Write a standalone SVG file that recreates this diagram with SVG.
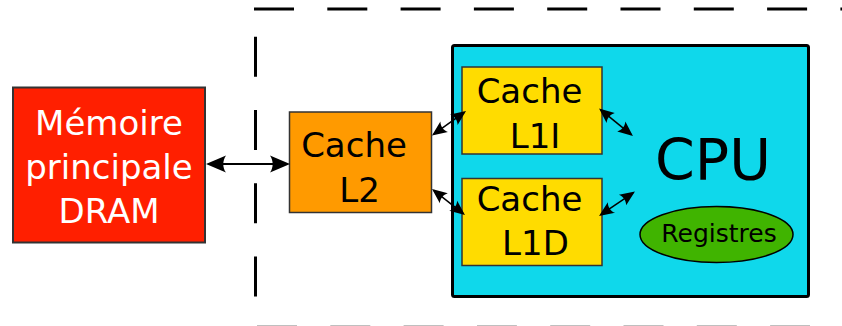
<svg xmlns="http://www.w3.org/2000/svg" width="842" height="326" viewBox="0 0 842 326">
<style>
text{font-family:"DejaVu Sans","Liberation Sans",sans-serif;text-anchor:middle}
.t34{font-size:34px}
.box{stroke:#333;stroke-width:1.5}
.dash{fill:none;stroke:#000;stroke-width:3;stroke-dasharray:40 33.3}
.conn{stroke:#000;fill:none}
</style>
<defs>
<marker id="arr" viewBox="-12 -6 14 12" refX="-1.5" refY="0" markerWidth="14" markerHeight="12" orient="auto-start-reverse" markerUnits="strokeWidth" overflow="visible">
<path d="M0,0 L-10,-4.3 C-8.2,-1.6 -8.2,1.6 -10,4.3 Z" fill="#000"/>
</marker>
</defs>
<g id="frame">
<line class="dash" x1="254" y1="9" x2="842" y2="9"/>
<line class="dash" x1="255.5" y1="36.7" x2="255.5" y2="300" stroke-dasharray="39.5 33.8"/>
<line class="dash" x1="257" y1="327.3" x2="842" y2="327.3"/>
</g>
<g id="memoire">
<rect x="13" y="87.5" width="192" height="155" fill="#ff1f00" stroke="#333" stroke-width="2"/>
<text class="t34" x="109" y="135" fill="#fff">Mémoire</text>
<text class="t34" x="109" y="179" fill="#fff">principale</text>
<text class="t34" x="109" y="223" fill="#fff">DRAM</text>
</g>
<g id="l2">
<rect class="box" x="289.5" y="112" width="142" height="100.5" fill="#ff9a00"/>
<text class="t34" x="354" y="157">Cache</text>
<text class="t34" x="359.5" y="202">L2</text>
</g>
<g id="cpu">
<rect x="452.5" y="45.5" width="356" height="251" rx="2" fill="#0fd8eb" stroke="#000" stroke-width="3"/>
<text x="713" y="180" font-size="57">CPU</text>
</g>
<g id="l1i">
<rect class="box" x="462" y="67" width="140" height="87" fill="#ffdc00"/>
<text class="t34" x="529.5" y="103">Cache</text>
<text class="t34" x="535" y="148">L1I</text>
</g>
<g id="l1d">
<rect class="box" x="462" y="178.5" width="140" height="87" fill="#ffdc00"/>
<text class="t34" x="529.5" y="211">Cache</text>
<text class="t34" x="535.5" y="255">L1D</text>
</g>
<g id="registres">
<ellipse cx="716.5" cy="234.5" rx="76.5" ry="28" fill="#40b400" stroke="#000" stroke-width="1.5"/>
<text x="719" y="242" font-size="25">Registres</text>
</g>
<g id="connectors">
<line class="conn" x1="209" y1="164" x2="287" y2="164" stroke-width="2" marker-start="url(#arr)" marker-end="url(#arr)"/>
<line class="conn" x1="433.8" y1="134.2" x2="464.2" y2="112.3" stroke-width="1.5" marker-start="url(#arr)" marker-end="url(#arr)"/>
<line class="conn" x1="433.8" y1="190.4" x2="463.2" y2="213.6" stroke-width="1.5" marker-start="url(#arr)" marker-end="url(#arr)"/>
<line class="conn" x1="600.8" y1="109.9" x2="631.2" y2="134.6" stroke-width="1.5" marker-start="url(#arr)" marker-end="url(#arr)"/>
<line class="conn" x1="600.9" y1="214.7" x2="633.1" y2="192.8" stroke-width="1.5" marker-start="url(#arr)" marker-end="url(#arr)"/>
</g>
</svg>
